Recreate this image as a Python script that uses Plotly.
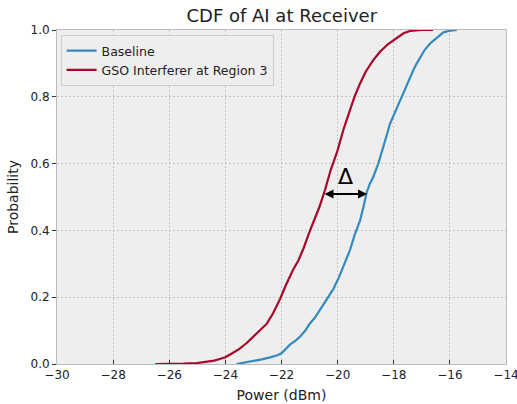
import plotly.graph_objects as go

# Empirical CDF of received aggregate interference (dBm)
baseline_power = [-23.6, -23.3, -23.0, -22.7, -22.4, -22.15, -22.0, -21.85, -21.7, -21.5,
                  -21.34, -21.15, -21.0, -20.8, -20.6, -20.45, -20.35, -20.15, -19.95,
                  -19.75, -19.56, -19.38, -19.2, -19.08, -18.96, -18.85, -18.73, -18.55,
                  -18.4, -18.25, -18.13, -17.95, -17.78, -17.62, -17.45, -17.3, -17.18,
                  -17.05, -16.9, -16.7, -16.55, -16.47, -16.35, -16.23, -16.0, -15.75]
baseline_prob = [0.0, 0.004, 0.01, 0.014, 0.02, 0.026, 0.032, 0.045, 0.058, 0.07,
                 0.082, 0.10, 0.12, 0.14, 0.165, 0.185, 0.20, 0.225, 0.26,
                 0.30, 0.341, 0.39, 0.43, 0.47, 0.515, 0.54, 0.56, 0.60,
                 0.64, 0.685, 0.72, 0.755, 0.79, 0.82, 0.85, 0.88, 0.90,
                 0.92, 0.94, 0.96, 0.97, 0.975, 0.985, 0.993, 0.998, 1.0]

gso_power = [-26.5, -26.0, -25.5, -25.0, -24.7, -24.4, -24.2, -24.0, -23.8, -23.5,
             -23.25, -23.0, -22.75, -22.53, -22.3, -22.05, -21.85, -21.6, -21.4,
             -21.22, -21.05, -20.85, -20.65, -20.45, -20.25, -20.0, -19.8, -19.56,
             -19.4, -19.2, -19.0, -18.73, -18.49, -18.2, -17.9, -17.65, -17.42,
             -17.0, -16.6]
gso_prob = [0.0, 0.0, 0.001, 0.003, 0.006, 0.01, 0.015, 0.02, 0.03, 0.045,
            0.062, 0.082, 0.10, 0.12, 0.152, 0.195, 0.235, 0.28, 0.31,
            0.345, 0.385, 0.425, 0.47, 0.521, 0.58, 0.64, 0.70, 0.76,
            0.80, 0.84, 0.875, 0.91, 0.935, 0.958, 0.975, 0.99, 0.997,
            1.0, 1.0]

series_names = ["Baseline", "GSO Interferer at Region 3"]
x_ticks = [-30, -28, -26, -24, -22, -20, -18, -16, -14]
y_ticks = [0.0, 0.2, 0.4, 0.6, 0.8, 1.0]

# Shift between the two curves at the median
delta_start = -20.52
delta_end = -18.95
delta_level = 0.509

FONT = "DejaVu Sans"
TEXT = "#222222"

fig = go.Figure()
fig.add_trace(go.Scatter(x=baseline_power, y=baseline_prob, mode="lines",
                         name=series_names[0], line=dict(color="#348ABD", width=2.2)))
fig.add_trace(go.Scatter(x=gso_power, y=gso_prob, mode="lines",
                         name=series_names[1], line=dict(color="#A60628", width=2.2)))

fig.add_annotation(x=delta_end, y=delta_level, ax=delta_start, ay=delta_level,
                   xref="x", yref="y", axref="x", ayref="y", text="",
                   showarrow=True, arrowhead=2, startarrowhead=2, arrowside="end+start",
                   arrowwidth=1.8, arrowsize=1.0, startarrowsize=1.0,
                   arrowcolor="black", standoff=0, startstandoff=0)
fig.add_annotation(x=(delta_start + delta_end) / 2, y=0.56, xref="x", yref="y",
                   text="Δ", showarrow=False,
                   font=dict(family=FONT, size=22, color="black"))

axis_common = dict(showgrid=True, gridcolor="#c4c4c4", griddash="2px,2px", gridwidth=1,
                   zeroline=False, showline=True, linecolor="#bcbcbc", linewidth=1,
                   mirror=True, tickfont=dict(family=FONT, size=12, color=TEXT),
                   ticklen=4, tickcolor="#333", automargin=False)

fig.update_layout(
    width=517, height=404,
    margin=dict(l=57, r=11, t=30, b=40),
    paper_bgcolor="white", plot_bgcolor="#eeeeee",
    title=dict(text="CDF of AI at Receiver", x=0.545, xanchor="center", y=0.96,
               yanchor="middle", font=dict(family=FONT, size=18, color=TEXT)),
    xaxis=dict(range=[-30, -14], tickvals=x_ticks,
               ticktext=[str(v).replace("-", "\u2212") for v in x_ticks],
               ticks="inside", ticklabeloverflow="allow",
               title=dict(text="Power (dBm)", font=dict(family=FONT, size=14, color=TEXT),
                          standoff=8),
               **axis_common),
    yaxis=dict(range=[0, 1], tickvals=y_ticks, ticktext=[f"{v:.1f}" for v in y_ticks],
               ticks="outside",
               title=dict(text="Probability", font=dict(family=FONT, size=14, color=TEXT),
                          standoff=8),
               **axis_common),
    legend=dict(x=0.008, y=0.985, xanchor="left", yanchor="top",
                bgcolor="#eeeeee", bordercolor="#cccccc", borderwidth=1,
                font=dict(family=FONT, size=12.5, color=TEXT),
                itemwidth=30, tracegroupgap=0),
    showlegend=True,
)

fig.write_html("out.html")
